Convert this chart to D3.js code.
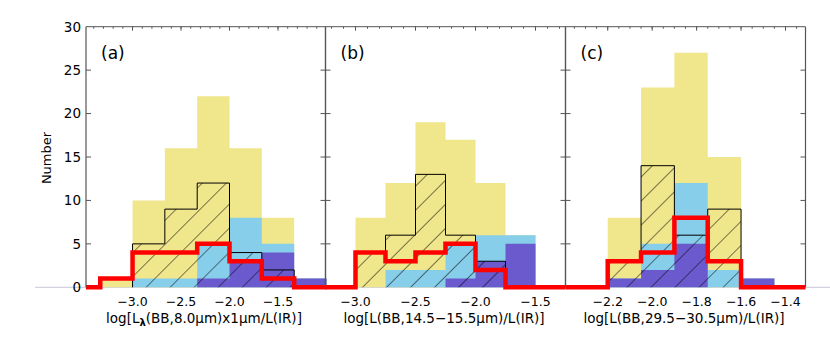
<!DOCTYPE html>
<html>
<head>
<meta charset="utf-8">
<script src="https://cdn.jsdelivr.net/npm/d3@7"></script>
<style>
  body { margin: 0; background: #fff; }
  text { font-family: "DejaVu Sans", sans-serif; fill: #000; }
</style>
</head>
<body>
<div id="chart"></div>
<script>
// Histogram data, one set of arrays per panel (bin edges + counts per bin)
const yTickValues = [0, 5, 10, 15, 20, 25, 30];

const edgesA = [-3.333, -3.0, -2.667, -2.333, -2.0, -1.667, -1.333, -1.0];
const yellowA = [1, 10, 16, 22, 16, 8, 1];
const blueA = [0, 1, 1, 5, 8, 5, 1];
const purpleA = [0, 0, 0, 1, 3, 4, 1];
const hatchA = [0, 5, 9, 12, 4, 2, 0];
const redA = [1, 4, 4, 5, 3, 1, 0];
const ticksA = [-3.0, -2.5, -2.0, -1.5];

const edgesB = [-3.0, -2.75, -2.5, -2.25, -2.0, -1.75, -1.5];
const yellowB = [8, 12, 19, 17, 12, 6];
const blueB = [0, 2, 2, 5, 6, 6];
const purpleB = [0, 0, 0, 1, 3, 5];
const hatchB = [4, 6, 13, 6, 3, 0];
const redB = [4, 3, 4, 5, 2, 0];
const ticksB = [-3.0, -2.5, -2.0, -1.5];

const edgesC = [-2.2, -2.05, -1.9, -1.75, -1.6, -1.45];
const yellowC = [8, 23, 27, 15, 1];
const blueC = [1, 5, 12, 2, 1];
const purpleC = [1, 2, 5, 0, 1];
const hatchC = [3, 14, 6, 9, 0];
const redC = [3, 4, 8, 3, 0];
const ticksC = [-2.2, -2.0, -1.8, -1.6, -1.4];

const panels = [
    { label: "(a)", edges: edgesA, yellow: yellowA, blue: blueA, purple: purpleA, hatch: hatchA, red: redA,
      ticks: ticksA, domain: [-3.48, -1.01], x0: 86, x1: 325.5, minor: 0.1 },
    { label: "(b)", edges: edgesB, yellow: yellowB, blue: blueB, purple: purpleB, hatch: hatchB, red: redB,
      ticks: ticksB, domain: [-3.25, -1.25], x0: 325.5, x1: 565.5, minor: 0.1 },
    { label: "(c)", edges: edgesC, yellow: yellowC, blue: blueC, purple: purpleC, hatch: hatchC, red: redC,
      ticks: ticksC, domain: [-2.39, -1.31], x0: 565.5, x1: 805.5, minor: 0.05 }
];

const width = 830, height = 342;
const yTop = 26.7, yBot = 287.3;
const axisColor = "#555";

const svg = d3.select("#chart")
    .append("svg")
    .attr("width", width)
    .attr("height", height);

// hatch pattern (diagonal "/" lines)
svg.append("defs")
    .append("pattern")
    .attr("id", "hatch")
    .attr("patternUnits", "userSpaceOnUse")
    .attr("width", 17)
    .attr("height", 17)
    .attr("patternTransform", "rotate(45)")
    .append("line")
    .attr("x1", 0).attr("y1", 0)
    .attr("x2", 0).attr("y2", 17)
    .attr("stroke", "#000")
    .attr("stroke-width", 1);

const y = d3.scaleLinear().domain([0, 30]).range([yBot, yTop]);

// faint long baseline running across the page
svg.append("line")
    .attr("x1", 35).attr("x2", 830)
    .attr("y1", yBot).attr("y2", yBot)
    .attr("stroke", "#c9c9d9")
    .attr("stroke-width", 1);

const fmt = d3.format(".1f");

panels.forEach(p => {
    const x = d3.scaleLinear().domain(p.domain).range([p.x0, p.x1]);
    const g = svg.append("g");

    // step points for an area/line: one point per bin, plus the closing edge
    const stepPts = vals => {
        const pts = vals.map((v, i) => [p.edges[i], v]);
        pts.push([p.edges[vals.length], vals[vals.length - 1]]);
        return pts;
    };

    const area = d3.area()
        .x(d => x(d[0]))
        .y0(y(0))
        .y1(d => y(d[1]))
        .curve(d3.curveStepAfter);

    const line = d3.line()
        .x(d => x(d[0]))
        .y(d => y(d[1]))
        .curve(d3.curveStepAfter);

    const minorTicks = d3.range(Math.ceil(p.domain[0] / p.minor), Math.floor(p.domain[1] / p.minor) + 1)
        .map(k => k * p.minor);

    g.append("path").attr("d", area(stepPts(p.yellow))).attr("fill", "#f0e68c");
    g.append("path").attr("d", area(stepPts(p.blue))).attr("fill", "#87ceeb");
    g.append("path").attr("d", area(stepPts(p.purple))).attr("fill", "#6a5acd");

    // hatched histogram: trim zero bins at the ends
    let first = p.hatch.findIndex(v => v > 0);
    let last = p.hatch.length - 1;
    while (p.hatch[last] === 0) last--;
    const hPts = [];
    hPts.push([p.edges[first], 0]);
    for (let i = first; i <= last; i++) hPts.push([p.edges[i], p.hatch[i]]);
    hPts.push([p.edges[last + 1], p.hatch[last]]);
    hPts.push([p.edges[last + 1], 0]);
    g.append("path").attr("d", area(hPts)).attr("fill", "url(#hatch)");
    g.append("path").attr("d", line(hPts))
        .attr("fill", "none")
        .attr("stroke", "#000")
        .attr("stroke-width", 1);

    // red histogram, flat at zero out to the panel edges
    const rPts = [[p.domain[0], 0]];
    p.red.forEach((v, i) => rPts.push([p.edges[i], v]));
    rPts.push([p.edges[p.red.length], 0]);
    rPts.push([p.domain[1], 0]);
    g.append("path").attr("d", line(rPts))
        .attr("fill", "none")
        .attr("stroke", "#ff0000")
        .attr("stroke-width", 4.5)
        .attr("stroke-linejoin", "miter");

    // frame: top, left, right
    g.append("line").attr("x1", p.x0).attr("x2", p.x1).attr("y1", yTop).attr("y2", yTop)
        .attr("stroke", axisColor).attr("stroke-width", 1);
    [p.x0, p.x1].forEach(xx => {
        g.append("line").attr("x1", xx).attr("x2", xx).attr("y1", yTop).attr("y2", yBot)
            .attr("stroke", axisColor).attr("stroke-width", 1.2);
    });

    // top ticks
    g.selectAll(".tminor").data(minorTicks).enter().append("line")
        .attr("x1", d => x(d)).attr("x2", d => x(d))
        .attr("y1", yTop).attr("y2", yTop + 2)
        .attr("stroke", axisColor);
    g.selectAll(".tmajor").data(p.ticks).enter().append("line")
        .attr("x1", d => x(d)).attr("x2", d => x(d))
        .attr("y1", yTop).attr("y2", yTop + 4)
        .attr("stroke", axisColor);

    // y ticks on both sides of the panel, pointing inward
    g.selectAll(".yl").data(yTickValues.slice(1, -1)).enter().append("line")
        .attr("x1", p.x0).attr("x2", p.x0 + 5)
        .attr("y1", d => y(d)).attr("y2", d => y(d))
        .attr("stroke", axisColor);
    g.selectAll(".yr").data(yTickValues.slice(1, -1)).enter().append("line")
        .attr("x1", p.x1 - 5).attr("x2", p.x1)
        .attr("y1", d => y(d)).attr("y2", d => y(d))
        .attr("stroke", axisColor);

    // x tick labels
    g.selectAll(".xl").data(p.ticks).enter().append("text")
        .attr("x", d => x(d))
        .attr("y", 306)
        .attr("text-anchor", "middle")
        .style("font-size", "12.5px")
        .text(d => fmt(d));

    // panel label
    g.append("text")
        .attr("x", p.x0 + 15)
        .attr("y", 59)
        .style("font-size", "17px")
        .text(p.label);
});

// y tick labels on the first panel
svg.selectAll(".ylab").data(yTickValues).enter().append("text")
    .attr("x", 81)
    .attr("y", d => y(d))
    .attr("dy", "0.36em")
    .attr("text-anchor", "end")
    .style("font-size", "13.5px")
    .text(d => d);

// y axis title
svg.append("text")
    .attr("transform", "translate(51,158) rotate(-90)")
    .attr("text-anchor", "middle")
    .style("font-size", "13px")
    .text("Number");

// x axis titles
const titleA = svg.append("text")
    .attr("x", 204).attr("y", 323)
    .attr("text-anchor", "middle")
    .style("font-size", "13.5px");
titleA.append("tspan").text("log[L");
titleA.append("tspan").attr("baseline-shift", "-25%").style("font-size", "10px").style("font-weight", "bold").text("λ");
titleA.append("tspan").text("(BB,8.0μm)x1μm/L(IR)]");

svg.append("text")
    .attr("x", 444).attr("y", 323)
    .attr("text-anchor", "middle")
    .style("font-size", "13.5px")
    .text("log[L(BB,14.5−15.5μm)/L(IR)]");

svg.append("text")
    .attr("x", 684).attr("y", 323)
    .attr("text-anchor", "middle")
    .style("font-size", "13.5px")
    .text("log[L(BB,29.5−30.5μm)/L(IR)]");
</script>
</body>
</html>
